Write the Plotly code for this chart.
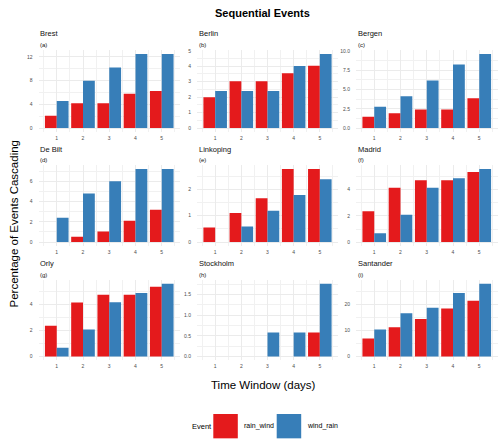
import plotly.graph_objects as go

stations = ["Brest", "Berlin", "Bergen", "De Bilt", "Linkoping", "Madrid", "Orly", "Stockholm", "Santander"]
letters = ["(a)", "(b)", "(c)", "(d)", "(e)", "(f)", "(g)", "(h)", "(i)"]
windows = [1, 2, 3, 4, 5]

rain_wind = {
    "Brest":     [2.08, 4.17, 4.17, 5.77, 6.25],
    "Berlin":    [2.0, 3.03, 3.03, 3.54, 4.03],
    "Bergen":    [1.46, 1.93, 2.4, 2.4, 3.86],
    "De Bilt":   [0, 0.52, 1.04, 2.1, 3.18],
    "Linkoping": [0.55, 1.1, 1.66, 2.77, 2.77],
    "Madrid":    [2.36, 4.15, 4.73, 4.73, 5.35],
    "Orly":      [2.36, 4.15, 4.73, 4.73, 5.35],
    "Stockholm": [0, 0, 0, 0, 0.58],
    "Santander": [6.9, 11.25, 14.4, 18.4, 21.4],
}
wind_rain = {
    "Brest":     [4.55, 7.99, 10.2, 12.5, 12.5],
    "Berlin":    [2.4, 2.4, 2.4, 4.01, 4.8],
    "Bergen":    [2.75, 4.12, 6.18, 8.24, 9.61],
    "De Bilt":   [2.4, 4.8, 6.0, 7.2, 7.2],
    "Linkoping": [0, 0.59, 1.19, 1.79, 2.38],
    "Madrid":    [0.68, 2.08, 4.16, 4.88, 5.58],
    "Orly":      [0.68, 2.08, 4.16, 4.88, 5.58],
    "Stockholm": [0, 0, 0.58, 0.58, 1.76],
    "Santander": [10.4, 16.6, 18.75, 24.4, 27.9],
}
y_tick_step = {
    "Brest": 4, "Berlin": 1, "Bergen": 2.5, "De Bilt": 2, "Linkoping": 1,
    "Madrid": 2, "Orly": 2, "Stockholm": 0.5, "Santander": 10,
}
y_tick_format = {"Bergen": ".1f", "Stockholm": ".1f"}

RED = "#E41A1C"
BLUE = "#377EB8"
W, H = 500, 444
FONT = "Liberation Sans, Arial, Helvetica, sans-serif"

col_px = [(38.5, 180.0), (197.0, 338.0), (356.0, 497.5)]
row_px = [(47.5, 129.7), (163.5, 244.4), (279.0, 359.7)]

fig = go.Figure()
layout = dict(
    width=W, height=H, margin=dict(l=0, r=0, t=0, b=0),
    paper_bgcolor="white", plot_bgcolor="white",
    barmode="group", bargap=0.1, bargroupgap=0,
    showlegend=False, font=dict(family=FONT, color="#000000"),
    hovermode=False,
)
annotations = []
shapes = []

for i, st in enumerate(stations):
    r, c = divmod(i, 3)
    k = "" if i == 0 else str(i + 1)
    xa, ya = "x" + k, "y" + k
    fig.add_trace(go.Bar(x=windows, y=rain_wind[st], name="rain_wind", marker_color=RED,
                         marker_line_width=0, xaxis=xa, yaxis=ya, offsetgroup="a"))
    fig.add_trace(go.Bar(x=windows, y=wind_rain[st], name="wind_rain", marker_color=BLUE,
                         marker_line_width=0, xaxis=xa, yaxis=ya, offsetgroup="b"))
    x0, x1 = col_px[c]
    y0, y1 = row_px[r]
    m = max(max(rain_wind[st]), max(wind_rain[st]))
    step = y_tick_step[st]
    layout["xaxis" + k] = dict(
        domain=[x0 / W, x1 / W], anchor=ya, range=[0.305, 5.695],
        tickmode="array", tickvals=windows, ticktext=[str(w) for w in windows],
        showgrid=True, gridcolor="#EBEBEB", gridwidth=1, zeroline=False, showline=False,
        ticks="", tickfont=dict(size=5, color="#4D4D4D", family=FONT), ticklabelstandoff=2,
        minor=dict(tickmode="linear", tick0=0.5, dtick=1, showgrid=True, gridcolor="#F1F1F1", gridwidth=0.7),
        fixedrange=True,
    )
    layout["yaxis" + k] = dict(
        domain=[1 - y1 / H, 1 - y0 / H], anchor=xa, range=[-0.05 * m, 1.05 * m],
        tickmode="linear", tick0=0, dtick=step, tickformat=y_tick_format.get(st, ""),
        showgrid=True, gridcolor="#EBEBEB", gridwidth=1, zeroline=False, showline=False,
        ticks="", tickfont=dict(size=5, color="#4D4D4D", family=FONT), ticklabelstandoff=5,
        minor=dict(tickmode="linear", tick0=0, dtick=step / 2, showgrid=True, gridcolor="#F1F1F1", gridwidth=0.7),
        fixedrange=True,
    )
    tx = round(x0)
    annotations.append(dict(x=tx / W, y=1 - round(y0 - 16.5) / H, xref="paper", yref="paper",
                            text=st, showarrow=False, xanchor="left", yanchor="middle",
                            font=dict(size=7.5, color="#111111", family=FONT)))
    annotations.append(dict(x=tx / W, y=1 - round(y0 - 5.5) / H, xref="paper", yref="paper",
                            text=letters[i], showarrow=False, xanchor="left", yanchor="middle",
                            font=dict(size=6, color="#111111", family=FONT)))

# Titles
annotations.append(dict(x=262 / W, y=1 - 10 / H, xref="paper", yref="paper", text="<b>Sequential Events</b>",
                        showarrow=False, xanchor="center", yanchor="middle",
                        font=dict(size=11, color="black", family=FONT)))
annotations.append(dict(x=263 / W, y=1 - 385 / H, xref="paper", yref="paper", text="Time Window (days)",
                        showarrow=False, xanchor="center", yanchor="middle",
                        font=dict(size=11.5, color="black", family=FONT)))
annotations.append(dict(x=13 / W, y=1 - 222 / H, xref="paper", yref="paper", text="Percentage of Events Cascading",
                        showarrow=False, xanchor="center", yanchor="middle", textangle=-90,
                        font=dict(size=11.5, color="black", family=FONT)))

# Legend (drawn manually to match large keys)
annotations.append(dict(x=190 / W, y=1 - 426 / H, xref="paper", yref="paper", text="Event",
                        showarrow=False, xanchor="left", yanchor="middle",
                        font=dict(size=7.5, color="black", family=FONT)))
legend_items = [("rain_wind", RED, 213.3), ("wind_rain", BLUE, 276.7)]
for name, col, lx in legend_items:
    shapes.append(dict(type="rect", xref="paper", yref="paper",
                       x0=lx / W, x1=(lx + 24.5) / W, y0=1 - 438.3 / H, y1=1 - 413.8 / H,
                       fillcolor=col, line=dict(width=0)))
    annotations.append(dict(x=(lx + 28.5) / W, y=1 - 426 / H, xref="paper", yref="paper", text=name,
                            showarrow=False, xanchor="left", yanchor="middle",
                            font=dict(size=7, color="black", family=FONT)))

layout["annotations"] = annotations
layout["shapes"] = shapes
fig.update_layout(**layout)
fig.write_html("out.html", config={"displayModeBar": False})
